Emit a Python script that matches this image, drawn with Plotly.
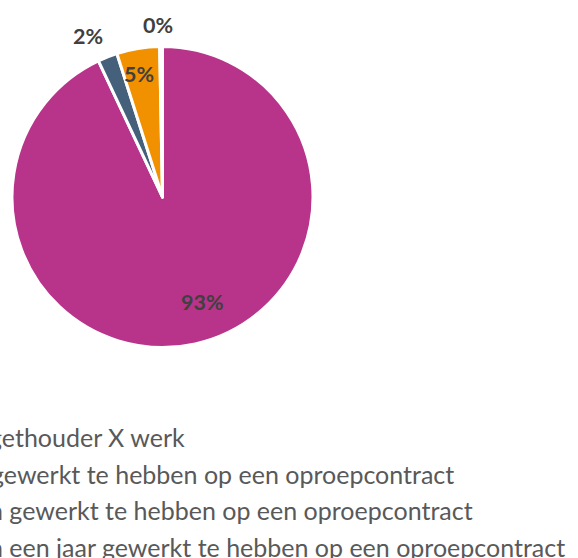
import math
import plotly.graph_objects as go

labels = [
    "gethouder X werk",
    "gewerkt te hebben op een oproepcontract",
    "n gewerkt te hebben op een oproepcontract",
    "n een jaar gewerkt te hebben op een oproepcontract",
]
values = [93.0, 2.1, 4.6, 0.3]
colors = ["#B8348A", "#44607A", "#F29100", "#A9C6E2"]

# style: data label placement (fraction of radius, angular tweak in degrees)
label_radius = [0.745, 1.18, 0.835, 1.14]
label_angle_tweak = [-8.4, -3.3, -1.3, -0.8]

W, H = 578, 558
# pie domain in pixels (left, right, top, bottom)
pl, pr, pt, pb = 12, 313, 46, 348

fig = go.Figure(
    go.Pie(
        labels=labels,
        values=values,
        sort=False,
        direction="clockwise",
        rotation=0,
        marker=dict(colors=colors, line=dict(color="white", width=3)),
        textinfo="none",
        hoverinfo="label+percent",
        showlegend=False,
        domain=dict(x=[pl / W, pr / W], y=[1 - pb / H, 1 - pt / H]),
    )
)

# data labels computed from the slice angles
cx, cy = (pl + pr) / 2, (pt + pb) / 2
r = min(pr - pl, pb - pt) / 2
total = sum(values)
cum = 0.0
for v, rf, tw in zip(values, label_radius, label_angle_tweak):
    mid = 360.0 * (cum + v / 2) / total + tw
    cum += v
    a = math.radians(mid)
    px = cx + rf * r * math.sin(a)
    py = cy - rf * r * math.cos(a)
    fig.add_annotation(
        x=px / W, y=1 - py / H, xref="paper", yref="paper",
        text="<b>%d%%</b>" % round(v / total * 100),
        showarrow=False, xanchor="center", yanchor="middle",
        font=dict(family="Lato", size=21.5, color="#404040"),
    )

# legend rows (the reference crops their markers and first letters)
legend_top = 437.0
legend_step = 36.6
legend_xshift = [-13, -11, -13, -13]
for i, (lab, xs) in enumerate(zip(labels, legend_xshift)):
    fig.add_annotation(
        x=0, y=1 - (legend_top + i * legend_step) / H, xref="paper", yref="paper",
        text=lab, showarrow=False, xanchor="left", yanchor="middle", xshift=xs,
        font=dict(family="Lato", size=25, color="#595959"),
    )

fig.update_layout(
    width=W,
    height=H,
    margin=dict(l=0, r=0, t=0, b=0),
    paper_bgcolor="white",
    plot_bgcolor="white",
    showlegend=False,
)

fig.write_html("out.html")
